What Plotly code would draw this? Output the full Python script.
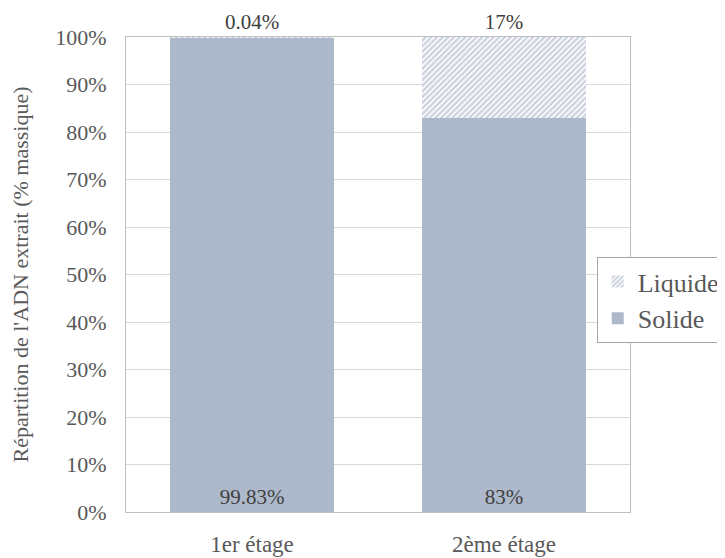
import plotly.graph_objects as go

categories = ["1er étage", "2ème étage"]
solide = [99.83, 83]
liquide = [0.04, 17]
solide_labels = ["99.83%", "83%"]
liquide_labels = ["0.04%", "17%"]
y_ticks = [0, 10, 20, 30, 40, 50, 60, 70, 80, 90, 100]

FONT = "Liberation Serif"
BAR = "#ADB9CA"
HATCH = "#97A5BB"

fig = go.Figure()
fig.add_trace(go.Bar(
    name="Solide", x=categories, y=solide,
    marker=dict(color=BAR, line=dict(width=0)),
    text=solide_labels, texttemplate="%{text}", textposition="inside",
    insidetextanchor="start", textangle=0,
    textfont=dict(family=FONT, size=21, color="#404040"),
))
fig.add_trace(go.Bar(
    name="Liquide", x=categories, y=liquide,
    marker=dict(color="white", line=dict(width=0),
                pattern=dict(shape="/", fgcolor=HATCH, bgcolor="white", size=4, solidity=0.6)),
    text=liquide_labels, texttemplate="%{text}", textposition="outside", textangle=0,
    cliponaxis=False,
    textfont=dict(family=FONT, size=21, color="#404040"),
))

fig.update_layout(
    barmode="stack", barnorm="percent", bargap=0.35,
    width=725, height=558,
    margin=dict(l=118, r=103, t=29, b=54, autoexpand=False),
    paper_bgcolor="white", plot_bgcolor="white",
    font=dict(family=FONT, color="#595959"),
    legend=dict(x=0.934, y=0.446, xanchor="left", yanchor="middle",
                traceorder="reversed", bgcolor="white",
                bordercolor="#A6A6A6", borderwidth=1,
                font=dict(family=FONT, size=26, color="#595959"),
                itemwidth=30),
    showlegend=True,
)
fig.update_yaxes(range=[0, 100], tickvals=y_ticks,
                 ticktext=[f"{v}%" for v in y_ticks],
                 tickfont=dict(family=FONT, size=22, color="#595959"),
                 ticklabelstandoff=14,
                 gridcolor="#D9D9D9", gridwidth=1,
                 showline=True, linecolor="#BFBFBF", linewidth=1, mirror=True,
                 ticks="", zeroline=False, automargin=True,
                 title=dict(text="Répartition de l'ADN extrait (% massique)",
                            font=dict(family=FONT, size=22, color="#595959"), standoff=30))
fig.update_xaxes(tickfont=dict(family=FONT, size=23, color="#595959"),
                 ticklabelstandoff=11,
                 showline=True, linecolor="#BFBFBF", linewidth=1, mirror=True,
                 ticks="", automargin=False)

fig.write_html("out.html")
